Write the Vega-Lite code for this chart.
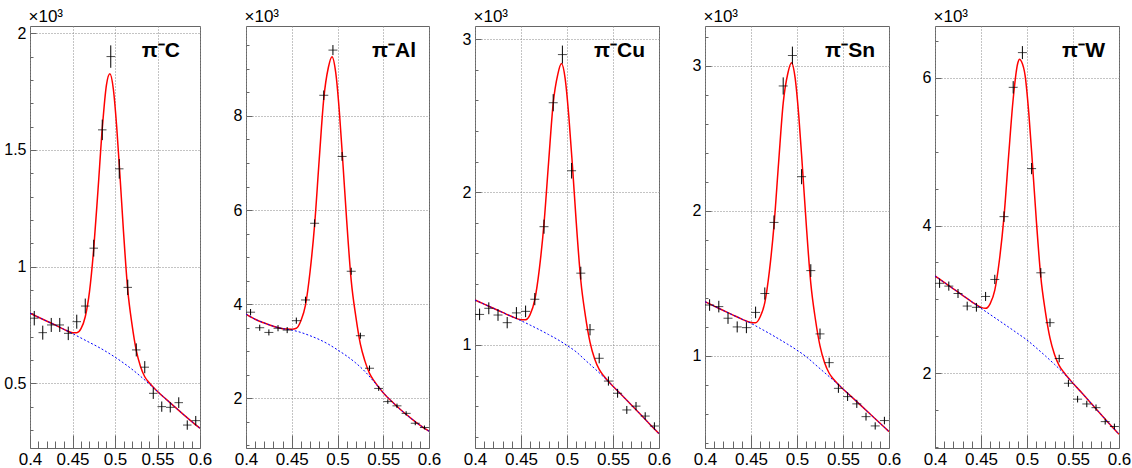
{
"$schema": "https://vega.github.io/schema/vega-lite/v6.json",
"background": "white",
"padding": {"left": 3, "top": 6, "right": 2, "bottom": 2},
"bounds": "flush",
"spacing": 46,
"config": {
  "view": {"stroke": "#666", "strokeWidth": 1},
  "axis": {"labelFont": "Liberation Sans", "labelFontSize": 17, "labelColor": "#000", "titleFont": "Liberation Sans", "titleColor": "#000", "titleFontWeight": "normal", "domain": false, "grid": true, "gridColor": "#888", "gridDash": [1, 2], "tickColor": "#666", "tickWidth": 1, "labelOverlap": false},
  "axisY": {"labelFontSize": 16},
  "title": {"font": "Liberation Sans", "color": "#000", "fontSize": 21, "fontWeight": "bold", "anchor": "end", "frame": "group", "baseline": "alphabetic", "offset": -54}
},
"datasets": {
"pts": [
{"p":"C","x":0.405,"v":0.779,"e":0.031},{"p":"C","x":0.415,"v":0.717,"e":0.030},{"p":"C","x":0.425,"v":0.75,"e":0.030},{"p":"C","x":0.435,"v":0.75,"e":0.030},{"p":"C","x":0.445,"v":0.714,"e":0.029},{"p":"C","x":0.455,"v":0.764,"e":0.030},{"p":"C","x":0.465,"v":0.831,"e":0.032},{"p":"C","x":0.475,"v":1.079,"e":0.036},{"p":"C","x":0.485,"v":1.586,"e":0.044},{"p":"C","x":0.495,"v":1.9,"e":0.048},{"p":"C","x":0.505,"v":1.419,"e":0.042},{"p":"C","x":0.515,"v":0.911,"e":0.033},{"p":"C","x":0.525,"v":0.643,"e":0.028},{"p":"C","x":0.535,"v":0.569,"e":0.026},{"p":"C","x":0.545,"v":0.457,"e":0.024},{"p":"C","x":0.555,"v":0.4,"e":0.022},{"p":"C","x":0.565,"v":0.397,"e":0.022},{"p":"C","x":0.575,"v":0.417,"e":0.023},{"p":"C","x":0.585,"v":0.321,"e":0.020},{"p":"C","x":0.595,"v":0.34,"e":0.020},
{"p":"Al","x":0.405,"v":3.83,"e":0.068},{"p":"Al","x":0.415,"v":3.50,"e":0.065},{"p":"Al","x":0.425,"v":3.40,"e":0.064},{"p":"Al","x":0.435,"v":3.49,"e":0.065},{"p":"Al","x":0.445,"v":3.45,"e":0.065},{"p":"Al","x":0.455,"v":3.65,"e":0.066},{"p":"Al","x":0.465,"v":4.09,"e":0.070},{"p":"Al","x":0.475,"v":5.72,"e":0.083},{"p":"Al","x":0.485,"v":8.44,"e":0.101},{"p":"Al","x":0.495,"v":9.40,"e":0.107},{"p":"Al","x":0.505,"v":7.14,"e":0.093},{"p":"Al","x":0.515,"v":4.70,"e":0.075},{"p":"Al","x":0.525,"v":3.33,"e":0.064},{"p":"Al","x":0.535,"v":2.64,"e":0.057},{"p":"Al","x":0.545,"v":2.21,"e":0.052},{"p":"Al","x":0.555,"v":1.93,"e":0.048},{"p":"Al","x":0.565,"v":1.84,"e":0.047},{"p":"Al","x":0.575,"v":1.68,"e":0.045},{"p":"Al","x":0.585,"v":1.47,"e":0.042},{"p":"Al","x":0.595,"v":1.38,"e":0.041},
{"p":"Cu","x":0.405,"v":1.20,"e":0.038},{"p":"Cu","x":0.415,"v":1.24,"e":0.039},{"p":"Cu","x":0.425,"v":1.196,"e":0.038},{"p":"Cu","x":0.435,"v":1.146,"e":0.037},{"p":"Cu","x":0.445,"v":1.21,"e":0.038},{"p":"Cu","x":0.455,"v":1.22,"e":0.038},{"p":"Cu","x":0.465,"v":1.30,"e":0.040},{"p":"Cu","x":0.475,"v":1.774,"e":0.046},{"p":"Cu","x":0.485,"v":2.585,"e":0.056},{"p":"Cu","x":0.495,"v":2.90,"e":0.059},{"p":"Cu","x":0.505,"v":2.14,"e":0.051},{"p":"Cu","x":0.515,"v":1.47,"e":0.042},{"p":"Cu","x":0.525,"v":1.10,"e":0.037},{"p":"Cu","x":0.535,"v":0.913,"e":0.033},{"p":"Cu","x":0.545,"v":0.764,"e":0.030},{"p":"Cu","x":0.555,"v":0.684,"e":0.029},{"p":"Cu","x":0.565,"v":0.575,"e":0.026},{"p":"Cu","x":0.575,"v":0.60,"e":0.027},{"p":"Cu","x":0.585,"v":0.535,"e":0.025},{"p":"Cu","x":0.595,"v":0.47,"e":0.024},
{"p":"Sn","x":0.405,"v":1.351,"e":0.040},{"p":"Sn","x":0.415,"v":1.34,"e":0.040},{"p":"Sn","x":0.425,"v":1.26,"e":0.039},{"p":"Sn","x":0.435,"v":1.20,"e":0.038},{"p":"Sn","x":0.445,"v":1.195,"e":0.038},{"p":"Sn","x":0.455,"v":1.30,"e":0.040},{"p":"Sn","x":0.465,"v":1.43,"e":0.042},{"p":"Sn","x":0.475,"v":1.92,"e":0.048},{"p":"Sn","x":0.485,"v":2.86,"e":0.059},{"p":"Sn","x":0.495,"v":3.07,"e":0.061},{"p":"Sn","x":0.505,"v":2.235,"e":0.052},{"p":"Sn","x":0.515,"v":1.588,"e":0.044},{"p":"Sn","x":0.525,"v":1.152,"e":0.037},{"p":"Sn","x":0.535,"v":0.954,"e":0.034},{"p":"Sn","x":0.545,"v":0.777,"e":0.031},{"p":"Sn","x":0.555,"v":0.72,"e":0.030},{"p":"Sn","x":0.565,"v":0.67,"e":0.028},{"p":"Sn","x":0.575,"v":0.582,"e":0.027},{"p":"Sn","x":0.585,"v":0.518,"e":0.025},{"p":"Sn","x":0.595,"v":0.555,"e":0.026},
{"p":"W","x":0.405,"v":3.218,"e":0.062},{"p":"W","x":0.415,"v":3.18,"e":0.062},{"p":"W","x":0.425,"v":3.08,"e":0.061},{"p":"W","x":0.435,"v":2.91,"e":0.059},{"p":"W","x":0.445,"v":2.893,"e":0.059},{"p":"W","x":0.455,"v":3.04,"e":0.061},{"p":"W","x":0.465,"v":3.27,"e":0.063},{"p":"W","x":0.475,"v":4.12,"e":0.071},{"p":"W","x":0.485,"v":5.87,"e":0.084},{"p":"W","x":0.495,"v":6.34,"e":0.088},{"p":"W","x":0.505,"v":4.77,"e":0.076},{"p":"W","x":0.515,"v":3.36,"e":0.064},{"p":"W","x":0.525,"v":2.685,"e":0.057},{"p":"W","x":0.535,"v":2.20,"e":0.052},{"p":"W","x":0.545,"v":1.865,"e":0.048},{"p":"W","x":0.555,"v":1.65,"e":0.045},{"p":"W","x":0.565,"v":1.585,"e":0.044},{"p":"W","x":0.575,"v":1.535,"e":0.043},{"p":"W","x":0.585,"v":1.346,"e":0.040},{"p":"W","x":0.595,"v":1.28,"e":0.039}
],
"sig": [
{"p":"C","x":0.40,"v":0.800},{"p":"C","x":0.41,"v":0.783},{"p":"C","x":0.42,"v":0.766},{"p":"C","x":0.43,"v":0.749},{"p":"C","x":0.44,"v":0.731},{"p":"C","x":0.45,"v":0.717},{"p":"C","x":0.455,"v":0.717},{"p":"C","x":0.46,"v":0.734},{"p":"C","x":0.465,"v":0.785},{"p":"C","x":0.47,"v":0.893},{"p":"C","x":0.475,"v":1.078},{"p":"C","x":0.48,"v":1.328},{"p":"C","x":0.485,"v":1.590},{"p":"C","x":0.49,"v":1.780},{"p":"C","x":0.494,"v":1.826},{"p":"C","x":0.498,"v":1.762},{"p":"C","x":0.502,"v":1.599},{"p":"C","x":0.506,"v":1.381},{"p":"C","x":0.51,"v":1.150},{"p":"C","x":0.515,"v":0.900},{"p":"C","x":0.52,"v":0.752},{"p":"C","x":0.525,"v":0.641},{"p":"C","x":0.53,"v":0.572},{"p":"C","x":0.535,"v":0.528},{"p":"C","x":0.54,"v":0.503},{"p":"C","x":0.55,"v":0.465},{"p":"C","x":0.56,"v":0.432},{"p":"C","x":0.57,"v":0.400},{"p":"C","x":0.58,"v":0.368},{"p":"C","x":0.59,"v":0.337},{"p":"C","x":0.60,"v":0.307},
{"p":"Al","x":0.40,"v":3.79},{"p":"Al","x":0.41,"v":3.68},{"p":"Al","x":0.42,"v":3.60},{"p":"Al","x":0.43,"v":3.53},{"p":"Al","x":0.44,"v":3.48},{"p":"Al","x":0.45,"v":3.47},{"p":"Al","x":0.455,"v":3.49},{"p":"Al","x":0.46,"v":3.65},{"p":"Al","x":0.465,"v":3.98},{"p":"Al","x":0.47,"v":4.69},{"p":"Al","x":0.475,"v":5.69},{"p":"Al","x":0.48,"v":7.07},{"p":"Al","x":0.485,"v":8.37},{"p":"Al","x":0.49,"v":9.03},{"p":"Al","x":0.494,"v":9.26},{"p":"Al","x":0.498,"v":8.93},{"p":"Al","x":0.502,"v":8.10},{"p":"Al","x":0.506,"v":6.97},{"p":"Al","x":0.51,"v":5.79},{"p":"Al","x":0.515,"v":4.50},{"p":"Al","x":0.52,"v":3.74},{"p":"Al","x":0.525,"v":3.15},{"p":"Al","x":0.53,"v":2.79},{"p":"Al","x":0.535,"v":2.53},{"p":"Al","x":0.54,"v":2.37},{"p":"Al","x":0.55,"v":2.12},{"p":"Al","x":0.56,"v":1.92},{"p":"Al","x":0.57,"v":1.74},{"p":"Al","x":0.58,"v":1.58},{"p":"Al","x":0.59,"v":1.43},{"p":"Al","x":0.60,"v":1.30},
{"p":"Cu","x":0.40,"v":1.294},{"p":"Cu","x":0.41,"v":1.267},{"p":"Cu","x":0.42,"v":1.24},{"p":"Cu","x":0.43,"v":1.213},{"p":"Cu","x":0.44,"v":1.186},{"p":"Cu","x":0.45,"v":1.165},{"p":"Cu","x":0.455,"v":1.165},{"p":"Cu","x":0.46,"v":1.20},{"p":"Cu","x":0.465,"v":1.297},{"p":"Cu","x":0.47,"v":1.50},{"p":"Cu","x":0.475,"v":1.794},{"p":"Cu","x":0.48,"v":2.196},{"p":"Cu","x":0.485,"v":2.581},{"p":"Cu","x":0.49,"v":2.771},{"p":"Cu","x":0.494,"v":2.841},{"p":"Cu","x":0.498,"v":2.743},{"p":"Cu","x":0.502,"v":2.495},{"p":"Cu","x":0.506,"v":2.165},{"p":"Cu","x":0.51,"v":1.807},{"p":"Cu","x":0.515,"v":1.422},{"p":"Cu","x":0.52,"v":1.191},{"p":"Cu","x":0.525,"v":1.019},{"p":"Cu","x":0.53,"v":0.91},{"p":"Cu","x":0.535,"v":0.84},{"p":"Cu","x":0.54,"v":0.797},{"p":"Cu","x":0.55,"v":0.730},{"p":"Cu","x":0.56,"v":0.670},{"p":"Cu","x":0.57,"v":0.607},{"p":"Cu","x":0.58,"v":0.545},{"p":"Cu","x":0.59,"v":0.482},{"p":"Cu","x":0.60,"v":0.42},
{"p":"Sn","x":0.40,"v":1.374},{"p":"Sn","x":0.41,"v":1.343},{"p":"Sn","x":0.42,"v":1.313},{"p":"Sn","x":0.43,"v":1.283},{"p":"Sn","x":0.44,"v":1.254},{"p":"Sn","x":0.45,"v":1.231},{"p":"Sn","x":0.455,"v":1.229},{"p":"Sn","x":0.46,"v":1.27},{"p":"Sn","x":0.465,"v":1.368},{"p":"Sn","x":0.47,"v":1.585},{"p":"Sn","x":0.475,"v":1.90},{"p":"Sn","x":0.48,"v":2.331},{"p":"Sn","x":0.485,"v":2.742},{"p":"Sn","x":0.49,"v":2.946},{"p":"Sn","x":0.494,"v":3.02},{"p":"Sn","x":0.498,"v":2.914},{"p":"Sn","x":0.502,"v":2.649},{"p":"Sn","x":0.506,"v":2.29},{"p":"Sn","x":0.51,"v":1.912},{"p":"Sn","x":0.515,"v":1.50},{"p":"Sn","x":0.52,"v":1.253},{"p":"Sn","x":0.525,"v":1.069},{"p":"Sn","x":0.53,"v":0.953},{"p":"Sn","x":0.535,"v":0.881},{"p":"Sn","x":0.54,"v":0.838},{"p":"Sn","x":0.55,"v":0.773},{"p":"Sn","x":0.56,"v":0.715},{"p":"Sn","x":0.57,"v":0.656},{"p":"Sn","x":0.58,"v":0.597},{"p":"Sn","x":0.59,"v":0.538},{"p":"Sn","x":0.60,"v":0.479},
{"p":"W","x":0.40,"v":3.317},{"p":"W","x":0.41,"v":3.23},{"p":"W","x":0.42,"v":3.143},{"p":"W","x":0.43,"v":3.056},{"p":"W","x":0.44,"v":2.968},{"p":"W","x":0.45,"v":2.892},{"p":"W","x":0.455,"v":2.879},{"p":"W","x":0.46,"v":2.944},{"p":"W","x":0.465,"v":3.126},{"p":"W","x":0.47,"v":3.53},{"p":"W","x":0.475,"v":4.12},{"p":"W","x":0.48,"v":4.94},{"p":"W","x":0.485,"v":5.715},{"p":"W","x":0.49,"v":6.20},{"p":"W","x":0.492,"v":6.25},{"p":"W","x":0.494,"v":6.22},{"p":"W","x":0.498,"v":6.026},{"p":"W","x":0.502,"v":5.514},{"p":"W","x":0.506,"v":4.823},{"p":"W","x":0.51,"v":4.094},{"p":"W","x":0.515,"v":3.305},{"p":"W","x":0.52,"v":2.832},{"p":"W","x":0.525,"v":2.476},{"p":"W","x":0.53,"v":2.251},{"p":"W","x":0.535,"v":2.105},{"p":"W","x":0.54,"v":2.015},{"p":"W","x":0.55,"v":1.865},{"p":"W","x":0.56,"v":1.73},{"p":"W","x":0.57,"v":1.59},{"p":"W","x":0.58,"v":1.45},{"p":"W","x":0.59,"v":1.31},{"p":"W","x":0.60,"v":1.175}
],
"bkg": [
{"p":"C","x":0.40,"v":0.800},{"p":"C","x":0.41,"v":0.783},{"p":"C","x":0.42,"v":0.766},{"p":"C","x":0.43,"v":0.749},{"p":"C","x":0.44,"v":0.731},{"p":"C","x":0.45,"v":0.713},{"p":"C","x":0.46,"v":0.694},{"p":"C","x":0.47,"v":0.675},{"p":"C","x":0.48,"v":0.656},{"p":"C","x":0.49,"v":0.635},{"p":"C","x":0.50,"v":0.612},{"p":"C","x":0.51,"v":0.587},{"p":"C","x":0.52,"v":0.560},{"p":"C","x":0.53,"v":0.530},{"p":"C","x":0.54,"v":0.498},{"p":"C","x":0.55,"v":0.465},{"p":"C","x":0.56,"v":0.432},{"p":"C","x":0.57,"v":0.400},{"p":"C","x":0.58,"v":0.368},{"p":"C","x":0.59,"v":0.337},{"p":"C","x":0.60,"v":0.307},
{"p":"Al","x":0.40,"v":3.79},{"p":"Al","x":0.41,"v":3.68},{"p":"Al","x":0.42,"v":3.60},{"p":"Al","x":0.43,"v":3.53},{"p":"Al","x":0.44,"v":3.48},{"p":"Al","x":0.45,"v":3.45},{"p":"Al","x":0.46,"v":3.40},{"p":"Al","x":0.47,"v":3.33},{"p":"Al","x":0.48,"v":3.25},{"p":"Al","x":0.49,"v":3.15},{"p":"Al","x":0.50,"v":3.03},{"p":"Al","x":0.51,"v":2.90},{"p":"Al","x":0.52,"v":2.75},{"p":"Al","x":0.53,"v":2.57},{"p":"Al","x":0.54,"v":2.35},{"p":"Al","x":0.55,"v":2.12},{"p":"Al","x":0.56,"v":1.92},{"p":"Al","x":0.57,"v":1.74},{"p":"Al","x":0.58,"v":1.58},{"p":"Al","x":0.59,"v":1.43},{"p":"Al","x":0.60,"v":1.30},
{"p":"Cu","x":0.40,"v":1.294},{"p":"Cu","x":0.41,"v":1.267},{"p":"Cu","x":0.42,"v":1.24},{"p":"Cu","x":0.43,"v":1.213},{"p":"Cu","x":0.44,"v":1.186},{"p":"Cu","x":0.45,"v":1.159},{"p":"Cu","x":0.46,"v":1.13},{"p":"Cu","x":0.47,"v":1.10},{"p":"Cu","x":0.48,"v":1.068},{"p":"Cu","x":0.49,"v":1.035},{"p":"Cu","x":0.50,"v":0.997},{"p":"Cu","x":0.51,"v":0.955},{"p":"Cu","x":0.52,"v":0.900},{"p":"Cu","x":0.53,"v":0.846},{"p":"Cu","x":0.54,"v":0.790},{"p":"Cu","x":0.55,"v":0.730},{"p":"Cu","x":0.56,"v":0.670},{"p":"Cu","x":0.57,"v":0.607},{"p":"Cu","x":0.58,"v":0.545},{"p":"Cu","x":0.59,"v":0.482},{"p":"Cu","x":0.60,"v":0.42},
{"p":"Sn","x":0.40,"v":1.374},{"p":"Sn","x":0.41,"v":1.343},{"p":"Sn","x":0.42,"v":1.313},{"p":"Sn","x":0.43,"v":1.283},{"p":"Sn","x":0.44,"v":1.254},{"p":"Sn","x":0.45,"v":1.225},{"p":"Sn","x":0.46,"v":1.19},{"p":"Sn","x":0.47,"v":1.155},{"p":"Sn","x":0.48,"v":1.118},{"p":"Sn","x":0.49,"v":1.08},{"p":"Sn","x":0.50,"v":1.04},{"p":"Sn","x":0.51,"v":0.995},{"p":"Sn","x":0.52,"v":0.94},{"p":"Sn","x":0.53,"v":0.885},{"p":"Sn","x":0.54,"v":0.83},{"p":"Sn","x":0.55,"v":0.773},{"p":"Sn","x":0.56,"v":0.715},{"p":"Sn","x":0.57,"v":0.656},{"p":"Sn","x":0.58,"v":0.597},{"p":"Sn","x":0.59,"v":0.538},{"p":"Sn","x":0.60,"v":0.479},
{"p":"W","x":0.40,"v":3.317},{"p":"W","x":0.41,"v":3.23},{"p":"W","x":0.42,"v":3.143},{"p":"W","x":0.43,"v":3.056},{"p":"W","x":0.44,"v":2.968},{"p":"W","x":0.45,"v":2.88},{"p":"W","x":0.46,"v":2.795},{"p":"W","x":0.47,"v":2.71},{"p":"W","x":0.48,"v":2.625},{"p":"W","x":0.49,"v":2.538},{"p":"W","x":0.50,"v":2.45},{"p":"W","x":0.51,"v":2.345},{"p":"W","x":0.52,"v":2.235},{"p":"W","x":0.53,"v":2.12},{"p":"W","x":0.54,"v":2.0},{"p":"W","x":0.55,"v":1.865},{"p":"W","x":0.56,"v":1.73},{"p":"W","x":0.57,"v":1.59},{"p":"W","x":0.58,"v":1.45},{"p":"W","x":0.59,"v":1.31},{"p":"W","x":0.60,"v":1.175}
]
},
"hconcat": [
{
  "width": 170, "height": 422,
  "title": {"text": "π⁻C", "dx": -20},
  "encoding": {
    "x": {"field": "x", "type": "quantitative", "scale": {"domain": [0.4, 0.6], "nice": false, "zero": false},
      "axis": {"title": null, "values": [0.4,0.41,0.42,0.43,0.44,0.45,0.46,0.47,0.48,0.49,0.5,0.51,0.52,0.53,0.54,0.55,0.56,0.57,0.58,0.59,0.6], "labelFlush": false, "labelPadding": 16,
        "labelExpr": "abs(datum.value*20-round(datum.value*20))<0.001 ? format(datum.value,'~g') : ''",
        "tickSize": {"condition": {"test": "abs(datum.value*20-round(datum.value*20))<0.001", "value": -13}, "value": -7},
        "gridOpacity": {"condition": {"test": "abs(datum.value*20-round(datum.value*20))<0.001", "value": 1}, "value": 0}}},
    "y": {"field": "v", "type": "quantitative", "scale": {"domain": [0.2227, 2.031], "nice": false, "zero": false},
      "axis": {"title": "×10³", "titleAngle": 0, "titleAlign": "left", "titleBaseline": "alphabetic", "titleX": -2, "titleY": -5, "titleFontSize": 17,
        "values": [0.3,0.4,0.5,0.6,0.7,0.8,0.9,1,1.1,1.2,1.3,1.4,1.5,1.6,1.7,1.8,1.9,2], "labelPadding": 10,
        "labelExpr": "abs(datum.value*2-round(datum.value*2))<0.001 ? format(datum.value,'~g') : ''",
        "tickSize": {"condition": {"test": "abs(datum.value*2-round(datum.value*2))<0.001", "value": -6}, "value": -3},
        "gridOpacity": {"condition": {"test": "abs(datum.value*2-round(datum.value*2))<0.001", "value": 1}, "value": 0}}}
  },
  "layer": [
    {"data": {"name": "sig"}, "transform": [{"filter": "datum.p==='C'"}], "mark": {"type": "line", "color": "#ff0000", "strokeWidth": 1.5, "interpolate": "monotone", "clip": true}},
    {"data": {"name": "bkg"}, "transform": [{"filter": "datum.p==='C'"}], "mark": {"type": "line", "color": "#0000ff", "strokeWidth": 1, "strokeDash": [2, 2], "interpolate": "monotone", "clip": true}},
    {"data": {"name": "pts"}, "transform": [{"filter": "datum.p==='C'"}], "mark": {"type": "errorbar", "color": "#000", "clip": true}, "encoding": {"yError": {"field": "e"}}},
    {"data": {"name": "pts"}, "transform": [{"filter": "datum.p==='C'"}], "mark": {"type": "tick", "orient": "horizontal", "color": "#000", "size": 8.5, "thickness": 1}}
  ]
},
{
  "width": 183, "height": 422,
  "title": {"text": "π⁻Al", "dx": -13},
  "encoding": {
    "x": {"field": "x", "type": "quantitative", "scale": {"domain": [0.4, 0.6], "nice": false, "zero": false},
      "axis": {"title": null, "values": [0.4,0.41,0.42,0.43,0.44,0.45,0.46,0.47,0.48,0.49,0.5,0.51,0.52,0.53,0.54,0.55,0.56,0.57,0.58,0.59,0.6], "labelFlush": false, "labelPadding": 16,
        "labelExpr": "abs(datum.value*20-round(datum.value*20))<0.001 ? format(datum.value,'~g') : ''",
        "tickSize": {"condition": {"test": "abs(datum.value*20-round(datum.value*20))<0.001", "value": -13}, "value": -7},
        "gridOpacity": {"condition": {"test": "abs(datum.value*20-round(datum.value*20))<0.001", "value": 1}, "value": 0}}},
    "y": {"field": "v", "type": "quantitative", "scale": {"domain": [0.944, 9.912], "nice": false, "zero": false},
      "axis": {"title": "×10³", "titleAngle": 0, "titleAlign": "left", "titleBaseline": "alphabetic", "titleX": -2, "titleY": -5, "titleFontSize": 17,
        "values": [1,1.5,2,2.5,3,3.5,4,4.5,5,5.5,6,6.5,7,7.5,8,8.5,9,9.5], "labelPadding": 10,
        "labelExpr": "abs(datum.value/2-round(datum.value/2))<0.001 ? format(datum.value,'~g') : ''",
        "tickSize": {"condition": {"test": "abs(datum.value/2-round(datum.value/2))<0.001", "value": -6}, "value": -3},
        "gridOpacity": {"condition": {"test": "abs(datum.value/2-round(datum.value/2))<0.001", "value": 1}, "value": 0}}}
  },
  "layer": [
    {"data": {"name": "sig"}, "transform": [{"filter": "datum.p==='Al'"}], "mark": {"type": "line", "color": "#ff0000", "strokeWidth": 1.5, "interpolate": "monotone", "clip": true}},
    {"data": {"name": "bkg"}, "transform": [{"filter": "datum.p==='Al'"}], "mark": {"type": "line", "color": "#0000ff", "strokeWidth": 1, "strokeDash": [2, 2], "interpolate": "monotone", "clip": true}},
    {"data": {"name": "pts"}, "transform": [{"filter": "datum.p==='Al'"}], "mark": {"type": "errorbar", "color": "#000", "clip": true}, "encoding": {"yError": {"field": "e"}}},
    {"data": {"name": "pts"}, "transform": [{"filter": "datum.p==='Al'"}], "mark": {"type": "tick", "orient": "horizontal", "color": "#000", "size": 9, "thickness": 1}}
  ]
},
{
  "width": 184, "height": 422,
  "title": {"text": "π⁻Cu", "dx": -14},
  "encoding": {
    "x": {"field": "x", "type": "quantitative", "scale": {"domain": [0.4, 0.6], "nice": false, "zero": false},
      "axis": {"title": null, "values": [0.4,0.41,0.42,0.43,0.44,0.45,0.46,0.47,0.48,0.49,0.5,0.51,0.52,0.53,0.54,0.55,0.56,0.57,0.58,0.59,0.6], "labelFlush": false, "labelPadding": 16,
        "labelExpr": "abs(datum.value*20-round(datum.value*20))<0.001 ? format(datum.value,'~g') : ''",
        "tickSize": {"condition": {"test": "abs(datum.value*20-round(datum.value*20))<0.001", "value": -13}, "value": -7},
        "gridOpacity": {"condition": {"test": "abs(datum.value*20-round(datum.value*20))<0.001", "value": 1}, "value": 0}}},
    "y": {"field": "v", "type": "quantitative", "scale": {"domain": [0.326, 3.087], "nice": false, "zero": false},
      "axis": {"title": "×10³", "titleAngle": 0, "titleAlign": "left", "titleBaseline": "alphabetic", "titleX": -2, "titleY": -5, "titleFontSize": 17,
        "values": [0.4,0.6,0.8,1,1.2,1.4,1.6,1.8,2,2.2,2.4,2.6,2.8,3], "labelPadding": 10,
        "labelExpr": "abs(datum.value-round(datum.value))<0.001 ? format(datum.value,'~g') : ''",
        "tickSize": {"condition": {"test": "abs(datum.value-round(datum.value))<0.001", "value": -6}, "value": -3},
        "gridOpacity": {"condition": {"test": "abs(datum.value-round(datum.value))<0.001", "value": 1}, "value": 0}}}
  },
  "layer": [
    {"data": {"name": "sig"}, "transform": [{"filter": "datum.p==='Cu'"}], "mark": {"type": "line", "color": "#ff0000", "strokeWidth": 1.5, "interpolate": "monotone", "clip": true}},
    {"data": {"name": "bkg"}, "transform": [{"filter": "datum.p==='Cu'"}], "mark": {"type": "line", "color": "#0000ff", "strokeWidth": 1, "strokeDash": [2, 2], "interpolate": "monotone", "clip": true}},
    {"data": {"name": "pts"}, "transform": [{"filter": "datum.p==='Cu'"}], "mark": {"type": "errorbar", "color": "#000", "clip": true}, "encoding": {"yError": {"field": "e"}}},
    {"data": {"name": "pts"}, "transform": [{"filter": "datum.p==='Cu'"}], "mark": {"type": "tick", "orient": "horizontal", "color": "#000", "size": 9, "thickness": 1}}
  ]
},
{
  "width": 184, "height": 422,
  "title": {"text": "π⁻Sn", "dx": -14},
  "encoding": {
    "x": {"field": "x", "type": "quantitative", "scale": {"domain": [0.4, 0.6], "nice": false, "zero": false},
      "axis": {"title": null, "values": [0.4,0.41,0.42,0.43,0.44,0.45,0.46,0.47,0.48,0.49,0.5,0.51,0.52,0.53,0.54,0.55,0.56,0.57,0.58,0.59,0.6], "labelFlush": false, "labelPadding": 16,
        "labelExpr": "abs(datum.value*20-round(datum.value*20))<0.001 ? format(datum.value,'~g') : ''",
        "tickSize": {"condition": {"test": "abs(datum.value*20-round(datum.value*20))<0.001", "value": -13}, "value": -7},
        "gridOpacity": {"condition": {"test": "abs(datum.value*20-round(datum.value*20))<0.001", "value": 1}, "value": 0}}},
    "y": {"field": "v", "type": "quantitative", "scale": {"domain": [0.366, 3.273], "nice": false, "zero": false},
      "axis": {"title": "×10³", "titleAngle": 0, "titleAlign": "left", "titleBaseline": "alphabetic", "titleX": -2, "titleY": -5, "titleFontSize": 17,
        "values": [0.4,0.6,0.8,1,1.2,1.4,1.6,1.8,2,2.2,2.4,2.6,2.8,3,3.2], "labelPadding": 10,
        "labelExpr": "abs(datum.value-round(datum.value))<0.001 ? format(datum.value,'~g') : ''",
        "tickSize": {"condition": {"test": "abs(datum.value-round(datum.value))<0.001", "value": -6}, "value": -3},
        "gridOpacity": {"condition": {"test": "abs(datum.value-round(datum.value))<0.001", "value": 1}, "value": 0}}}
  },
  "layer": [
    {"data": {"name": "sig"}, "transform": [{"filter": "datum.p==='Sn'"}], "mark": {"type": "line", "color": "#ff0000", "strokeWidth": 1.5, "interpolate": "monotone", "clip": true}},
    {"data": {"name": "bkg"}, "transform": [{"filter": "datum.p==='Sn'"}], "mark": {"type": "line", "color": "#0000ff", "strokeWidth": 1, "strokeDash": [2, 2], "interpolate": "monotone", "clip": true}},
    {"data": {"name": "pts"}, "transform": [{"filter": "datum.p==='Sn'"}], "mark": {"type": "errorbar", "color": "#000", "clip": true}, "encoding": {"yError": {"field": "e"}}},
    {"data": {"name": "pts"}, "transform": [{"filter": "datum.p==='Sn'"}], "mark": {"type": "tick", "orient": "horizontal", "color": "#000", "size": 9, "thickness": 1}}
  ]
},
{
  "width": 184, "height": 422,
  "title": {"text": "π⁻W", "dx": -14},
  "encoding": {
    "x": {"field": "x", "type": "quantitative", "scale": {"domain": [0.4, 0.6], "nice": false, "zero": false},
      "axis": {"title": null, "values": [0.4,0.41,0.42,0.43,0.44,0.45,0.46,0.47,0.48,0.49,0.5,0.51,0.52,0.53,0.54,0.55,0.56,0.57,0.58,0.59,0.6], "labelFlush": false, "labelPadding": 16,
        "labelExpr": "abs(datum.value*20-round(datum.value*20))<0.001 ? format(datum.value,'~g') : ''",
        "tickSize": {"condition": {"test": "abs(datum.value*20-round(datum.value*20))<0.001", "value": -13}, "value": -7},
        "gridOpacity": {"condition": {"test": "abs(datum.value*20-round(datum.value*20))<0.001", "value": 1}, "value": 0}}},
    "y": {"field": "v", "type": "quantitative", "scale": {"domain": [0.989, 6.70], "nice": false, "zero": false},
      "axis": {"title": "×10³", "titleAngle": 0, "titleAlign": "left", "titleBaseline": "alphabetic", "titleX": -2, "titleY": -5, "titleFontSize": 17,
        "values": [1,1.5,2,2.5,3,3.5,4,4.5,5,5.5,6,6.5], "labelPadding": 10,
        "labelExpr": "abs(datum.value/2-round(datum.value/2))<0.001 ? format(datum.value,'~g') : ''",
        "tickSize": {"condition": {"test": "abs(datum.value/2-round(datum.value/2))<0.001", "value": -6}, "value": -3},
        "gridOpacity": {"condition": {"test": "abs(datum.value/2-round(datum.value/2))<0.001", "value": 1}, "value": 0}}}
  },
  "layer": [
    {"data": {"name": "sig"}, "transform": [{"filter": "datum.p==='W'"}], "mark": {"type": "line", "color": "#ff0000", "strokeWidth": 1.5, "interpolate": "monotone", "clip": true}},
    {"data": {"name": "bkg"}, "transform": [{"filter": "datum.p==='W'"}], "mark": {"type": "line", "color": "#0000ff", "strokeWidth": 1, "strokeDash": [2, 2], "interpolate": "monotone", "clip": true}},
    {"data": {"name": "pts"}, "transform": [{"filter": "datum.p==='W'"}], "mark": {"type": "errorbar", "color": "#000", "clip": true}, "encoding": {"yError": {"field": "e"}}},
    {"data": {"name": "pts"}, "transform": [{"filter": "datum.p==='W'"}], "mark": {"type": "tick", "orient": "horizontal", "color": "#000", "size": 9, "thickness": 1}}
  ]
}
]
}
